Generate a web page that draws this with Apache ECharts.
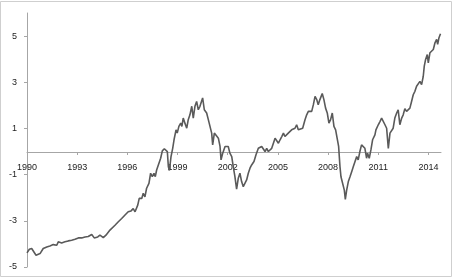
<!DOCTYPE html>
<html>
<head>
<meta charset="utf-8">
<script src="https://cdn.jsdelivr.net/npm/echarts@6/dist/echarts.min.js"></script>
<style>
  html, body { margin: 0; padding: 0; background: #fff; }
  #chart { width: 456px; height: 280px; }
</style>
</head>
<body>
<div id="chart"></div>
<script>
// time in decimal years
const years = [
  1990.00, 1990.14, 1990.28, 1990.38, 1990.54, 1990.64, 1990.78, 1990.97, 1991.18, 1991.37,
  1991.57, 1991.78, 1991.87, 1992.07, 1992.27, 1992.47, 1992.67, 1992.87, 1993.07, 1993.27,
  1993.47, 1993.66, 1993.87, 1994.02, 1994.23, 1994.36, 1994.56, 1994.72, 1994.96, 1995.26,
  1995.46, 1995.66, 1995.86, 1996.05, 1996.22, 1996.35, 1996.46, 1996.62, 1996.71, 1996.86,
  1996.95, 1997.05, 1997.15, 1997.29, 1997.39, 1997.49, 1997.59, 1997.67, 1997.75, 1997.85,
  1997.99, 1998.09, 1998.21, 1998.31, 1998.39, 1998.45, 1998.51, 1998.61, 1998.71, 1998.79,
  1998.91, 1998.98, 1999.08, 1999.19, 1999.26, 1999.34, 1999.44, 1999.55, 1999.64, 1999.74,
  1999.85, 1999.94, 2000.04, 2000.14, 2000.24, 2000.34, 2000.44, 2000.50, 2000.60, 2000.74,
  2000.84, 2000.94, 2001.04, 2001.10, 2001.20, 2001.30, 2001.44, 2001.54, 2001.60, 2001.70,
  2001.84, 2001.94, 2002.03, 2002.13, 2002.24, 2002.33, 2002.43, 2002.53, 2002.63, 2002.73,
  2002.83, 2002.93, 2003.03, 2003.13, 2003.23, 2003.33, 2003.43, 2003.57, 2003.69, 2003.83,
  2003.93, 2004.03, 2004.13, 2004.23, 2004.33, 2004.43, 2004.53, 2004.63, 2004.73, 2004.83,
  2004.93, 2005.03, 2005.13, 2005.23, 2005.33, 2005.42, 2005.52, 2005.62, 2005.72, 2005.82,
  2005.92, 2006.02, 2006.12, 2006.22, 2006.32, 2006.48, 2006.62, 2006.72, 2006.82, 2006.92,
  2007.02, 2007.12, 2007.22, 2007.32, 2007.41, 2007.51, 2007.65, 2007.75, 2007.85, 2007.95,
  2008.05, 2008.15, 2008.25, 2008.35, 2008.45, 2008.55, 2008.63, 2008.71, 2008.77, 2008.87,
  2008.97, 2009.03, 2009.11, 2009.21, 2009.31, 2009.41, 2009.51, 2009.61, 2009.71, 2009.80,
  2009.90, 2010.00, 2010.10, 2010.20, 2010.30, 2010.36, 2010.46, 2010.56, 2010.66, 2010.80,
  2010.86, 2011.00, 2011.10, 2011.20, 2011.30, 2011.40, 2011.50, 2011.60, 2011.70, 2011.80,
  2011.89, 2011.99, 2012.10, 2012.19, 2012.29, 2012.40, 2012.49, 2012.59, 2012.69, 2012.79,
  2012.89, 2012.99, 2013.09, 2013.19, 2013.29, 2013.39, 2013.49, 2013.59, 2013.69, 2013.75,
  2013.83, 2013.93, 2013.99, 2014.09, 2014.19, 2014.29, 2014.39, 2014.49, 2014.55, 2014.63,
  2014.72
]
const values = [
  -4.39, -4.23, -4.20, -4.27, -4.49, -4.54, -4.42, -4.20, -4.13, -4.09,
  -4.03, -4.06, -3.91, -3.96, -3.91, -3.87, -3.84, -3.80, -3.74, -3.74,
  -3.70, -3.68, -3.59, -3.74, -3.70, -3.62, -3.73, -3.62, -3.40, -3.19,
  -3.04, -2.90, -2.75, -2.61, -2.57, -2.47, -2.61, -2.32, -2.03, -2.03,
  -1.81, -1.96, -1.59, -1.38, -0.94, -1.09, -0.94, -1.09, -0.80, -0.72,
  -0.29, 0.03, 0.12, 0.14, 0.00, -0.65, -0.82, -0.22, 0.14, 0.51,
  0.94, 0.80, 1.09, 1.23, 1.09, 1.45, 1.23, 1.01, 1.38, 1.59,
  1.96, 1.45, 1.96, 2.17, 1.81, 1.96, 1.88, 2.32, 1.81, 1.67,
  1.38, 1.30, 0.80, 0.29, 0.80, 0.80, 0.58, 0.22, -0.36, -0.07,
  0.22, 0.14, 0.22, -0.07, -0.22, -0.65, -1.09, -1.63, -1.16, -0.94,
  -1.30, -1.52, -1.49, -1.23, -0.94, -0.72, -0.58, -0.43, -0.14, 0.14,
  0.07, 0.22, 0.14, 0.00, 0.14, 0.00, 0.00, 0.14, 0.36, 0.58,
  0.51, 0.36, 0.51, 0.65, 0.80, 0.65, 0.72, 0.80, 0.72, 0.94,
  0.87, 1.01, 1.16, 0.94, 0.94, 1.01, 1.38, 1.59, 1.74, 1.81,
  1.74, 2.03, 2.39, 2.25, 2.03, 2.25, 2.51, 2.25, 1.88, 1.67,
  1.23, 1.38, 1.67, 1.09, 0.94, 0.94, 0.22, -0.65, -1.09, -1.16,
  -1.67, -2.07, -1.67, -1.30, -1.09, -0.87, -0.65, -0.43, -0.22, -0.36,
  0.00, 0.29, 0.36, 0.14, -0.29, -0.07, -0.29, 0.07, 0.51, 0.72,
  0.94, 1.16, 1.30, 1.45, 1.38, 1.16, 1.01, 0.14, 0.80, 0.80,
  1.01, 1.45, 1.67, 1.81, 1.16, 1.45, 1.59, 1.86, 1.74, 1.77,
  1.88, 2.17, 2.46, 2.61, 2.83, 2.75, 3.04, 2.90, 3.26, 3.70,
  3.99, 4.20, 3.84, 4.28, 4.35, 4.42, 4.71, 4.86, 4.64, 4.93,
  5.10
]
const yearTicks = [1990, 1993, 1996, 1999, 2002, 2005, 2008, 2011, 2014]
const valueTicks = [-5, -3, -1, 1, 3, 5]

const chart = echarts.init(document.getElementById('chart'))
const labelFont = {
  color: '#222',
  fontSize: 9,
  fontFamily: 'Liberation Sans, Arial, sans-serif'
}
const axisColor = '#a6a6a6'

// plot is 254px tall for 11 units; zero sits 5 units above the bottom
const zeroOffset = -Math.round(254 * 5 / 11)

chart.setOption({
  animation: false,
  backgroundColor: '#fff',
  grid: { left: 27, right: 15, top: 13, bottom: 13, outerBoundsMode: 'none' },
  graphic: [{
    type: 'rect',
    silent: true,
    shape: { x: 0.5, y: 1.5, width: 451, height: 275 },
    style: { fill: 'none', stroke: '#cfcfcf', lineWidth: 1 }
  }],
  xAxis: {
    type: 'value',
    min: 1990,
    max: 2014.75,
    offset: zeroOffset,
    splitLine: { show: false },
    axisLine: { onZero: false, lineStyle: { color: axisColor, width: 1 } },
    axisTick: { show: true, length: 3, customValues: yearTicks, lineStyle: { color: axisColor } },
    axisLabel: Object.assign({ margin: 11, customValues: yearTicks, formatter: v => String(v) }, labelFont)
  },
  yAxis: {
    type: 'value',
    min: -5,
    max: 6,
    splitLine: { show: false },
    axisLine: { show: true, onZero: false, lineStyle: { color: axisColor, width: 1 } },
    axisTick: { show: true, length: 3, customValues: valueTicks, lineStyle: { color: axisColor } },
    axisLabel: Object.assign({ margin: 10, customValues: valueTicks }, labelFont)
  },
  series: [{
    type: 'line',
    data: years.map((y, i) => [y, values[i]]),
    showSymbol: false,
    lineStyle: { color: '#5a5a5a', width: 1.6 }
  }]
})
</script>
</body>
</html>
